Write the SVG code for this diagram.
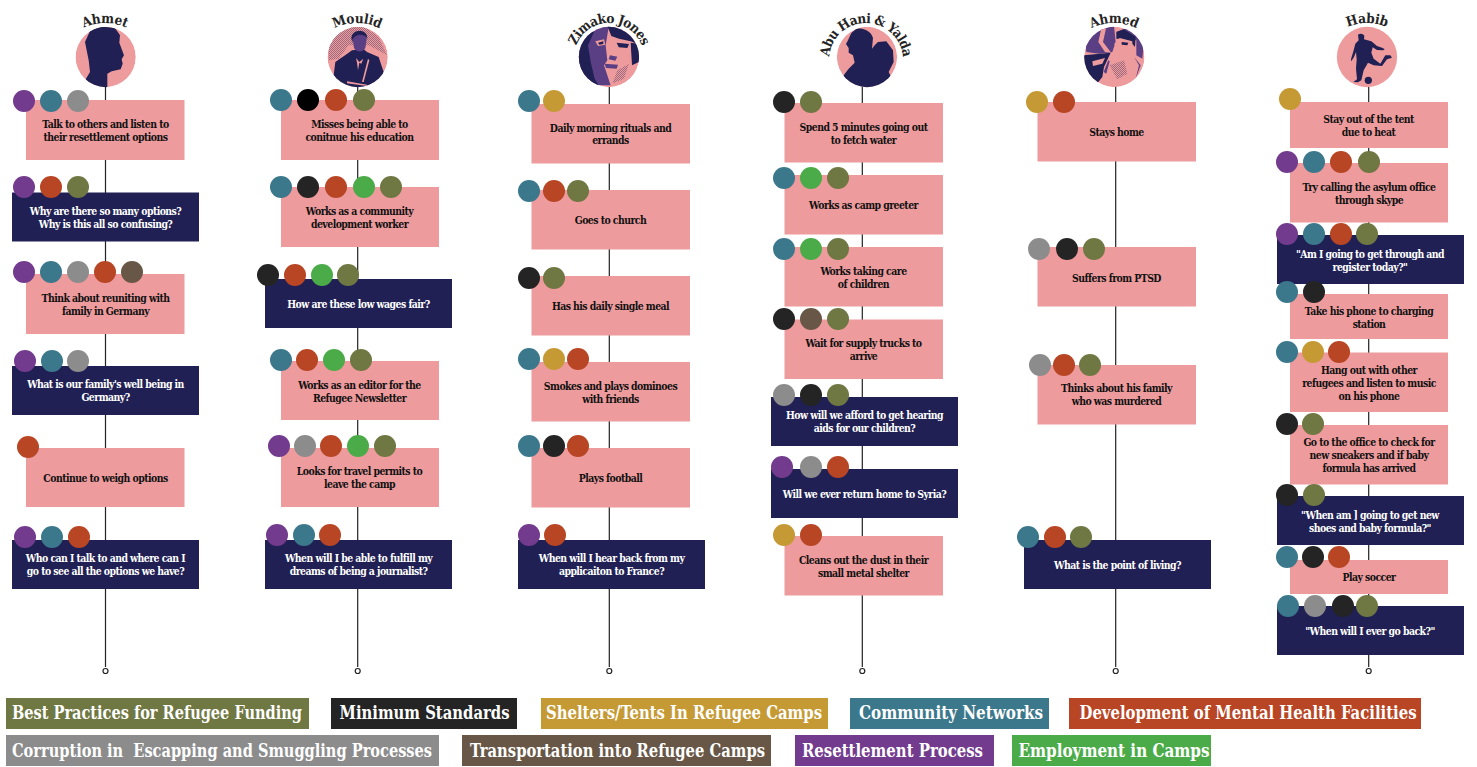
<svg xmlns="http://www.w3.org/2000/svg" width="1477" height="767" viewBox="0 0 1477 767">
<style>
.bg{fill:#fff}
.p{fill:#ee9b9d}.n{fill:#212054}
.ol{fill:#6f7742}.bk{fill:#242424}.go{fill:#c59a35}.te{fill:#3c788c}.ru{fill:#b84524}.gr{fill:#8c8c8c}.br{fill:#685746}.pu{fill:#723b8e}.gn{fill:#4bab49}.bl{fill:#000}
.m{fill:#5a3f84}.d{fill:url(#dith)}
text{font-family:"DejaVu Serif","Liberation Serif",serif;font-weight:700;font-stretch:condensed;text-anchor:middle}
.t{font-size:10.4px;letter-spacing:-.55px;fill:#111}
.w{font-size:10.4px;letter-spacing:-.55px;fill:#fff}
.name{font-size:13.5px;fill:#242424;letter-spacing:-.2px}
.tight{letter-spacing:-.65px}
.lg{font-size:19px;fill:#fff;white-space:pre}
.c{stroke:#222;stroke-width:1.2;fill:none}
.e{stroke:#222;stroke-width:1.2;fill:#fff}
</style>
<defs>
<pattern id="dith" width="6" height="6" patternUnits="userSpaceOnUse"><rect width="6" height="6" fill="#ee9b9d" fill-opacity=".25"/><rect width="3" height="3" fill="#212054" fill-opacity=".4"/><rect x="3" y="3" width="3" height="3" fill="#212054" fill-opacity=".4"/></pattern>
<path id="a1" d="M55 73A50 50 0 0 1 155 73"/>
<path id="a2" d="M307 73A50 50 0 0 1 407 73"/>
<path id="a3" d="M574 58A35 35 0 0 1 644 58"/>
<path id="a4" d="M829 60A37 37 0 0 1 903 60"/>
<path id="a5" d="M1064 73A50 50 0 0 1 1164 73"/>
<path id="a6" d="M1317 73A50 50 0 0 1 1417 73"/>
<clipPath id="cz1"><circle cx="107" cy="105" r="90.500"/></clipPath>
<clipPath id="cz2"><circle cx="107" cy="105" r="90.500"/></clipPath>
<clipPath id="cz3"><circle cx="105" cy="105" r="90.500"/></clipPath>
<clipPath id="cz4"><circle cx="117" cy="105" r="90.500"/></clipPath>
<clipPath id="cz5"><circle cx="106" cy="105" r="90.500"/></clipPath>
</defs>
<rect class="bg" width="1477" height="767"/>
<g id="connectors">
<path class="c" d="M105.500 87V667M357.700 87V667M609.300 87V667M862.300 87V667M1115.700 87V667M1368.700 87V667"/>
<circle class="e" cx="105.500" cy="671" r="2.500"/><circle class="e" cx="357.700" cy="671" r="2.500"/><circle class="e" cx="609.300" cy="671" r="2.500"/><circle class="e" cx="862.300" cy="671" r="2.500"/><circle class="e" cx="1115.700" cy="671" r="2.500"/><circle class="e" cx="1368.700" cy="671" r="2.500"/>
</g>
<g id="person-ahmet">
<g transform="translate(70 22) scale(.3333)" clip-path="url(#cz1)">
<circle class="p" cx="107" cy="105" r="90.500"/>
<path class="n" d="M60 27L80 17L100 14L135 18L150 40L148 62L162 100L155 112L158 125L152 142L125 148L112 155L112 200H40L47 172L60 150L56 115L45 60Z"/>
</g>
<text class="name"><textPath href="#a1" startOffset="50%">Ahmet</textPath></text>
</g>
<g id="person-moulid">
<g transform="translate(322 22) scale(.3333)" clip-path="url(#cz2)">
<circle class="p" cx="107" cy="105" r="90.500"/>
<path class="d" d="M20 70L40 35L90 15H130L170 45L195 100L140 70H80L50 110L20 115Z"/>
<path class="n" d="M90 85L80 92L40 120L35 160L60 200H170L185 150L170 105L135 90L125 82Z"/>
<path class="m" d="M92 50C92 30 132 30 134 50L130 78C124 92 102 92 96 78Z"/>
<path class="n" d="M88 50C88 18 138 18 136 50C128 34 100 34 92 52L92 62Z"/>
<path class="p" d="M102 108L112 120L124 110L118 125L112 122L108 145L105 122Z"/>
<path class="p" d="M138 110L120 180L125 180L142 115Z"/>
<path class="p" d="M75 178L135 188L135 192L75 184Z"/>
</g>
<text class="name"><textPath href="#a2" startOffset="50%">Moulid</textPath></text>
</g>
<g id="person-zimako">
<g transform="translate(574 22) scale(.3333)" clip-path="url(#cz3)">
<circle class="p" cx="105" cy="105" r="90.500"/>
<path class="m" d="M10 10H105L95 70L100 115L90 130L110 190H10Z"/>
<path class="n" d="M10 30L60 30L42 70L50 120L62 170L80 200H10Z"/>
<path class="n" d="M100 12H200V70L170 58L135 50L112 42Z"/>
<path class="n" d="M170 62L195 65V120L174 130Z"/>
<path class="p" d="M64 58L90 52L94 68L72 72Z"/>
<path class="n" d="M72 62L88 58L88 66L76 68Z"/>
<path class="n" d="M128 62L165 66L160 78L134 76Z"/>
<path class="m" d="M92 125L132 128L128 140L96 138Z"/>
<path class="m" d="M108 100L130 104L124 116L104 112Z"/>
<path class="d" d="M130 145L165 125L150 170L115 185Z"/>
</g>
<text class="name tight"><textPath href="#a3" startOffset="50%">Zimako Jones</textPath></text>
</g>
<g id="person-abu-hani-yalda">
<g transform="translate(828 22) scale(.3333)" clip-path="url(#cz4)">
<circle class="p" cx="117" cy="105" r="90.500"/>
<path class="n" d="M85 20C105 18 128 25 135 48L132 80L140 70L150 60L175 58L195 85L197 120L182 150L192 170L180 200H40L47 160L62 140L80 122L75 100L62 92L62 78L54 66L60 55L70 33Z"/>
</g>
<text class="name tight"><textPath href="#a4" startOffset="50%">Abu Hani &amp; Yalda</textPath></text>
</g>
<g id="person-ahmed">
<g transform="translate(1079 22) scale(.3333)" clip-path="url(#cz5)">
<circle class="p" cx="106" cy="105" r="90.500"/>
<path class="m" d="M20 70L50 25L105 12L110 60L100 90L60 95L22 90Z"/>
<path class="p" d="M68 15L82 15L72 60L95 90L78 90L58 60Z"/>
<path class="n" d="M15 100L95 92L75 135L70 165L50 190L15 180Z"/>
<path class="p" d="M40 118L78 108L70 125L42 132Z"/>
<path class="m" d="M112 30L150 15L195 60L190 110L172 100L172 55Z"/>
<path class="n" d="M112 30L135 22L170 45L168 75L155 60L125 50L112 50Z"/>
<path class="p" d="M122 48L160 58L160 78L135 100L112 88L106 65Z"/>
<path class="n" d="M128 60L148 62L145 70L128 68Z"/>
<path class="d" d="M92 130L135 115L145 155L115 172Z"/>
<path class="m" d="M74 150L88 115L92 118L82 155Z"/>
<path class="m" d="M165 105L185 130L170 170L180 130Z"/>
</g>
<text class="name"><textPath href="#a5" startOffset="50%">Ahmed</textPath></text>
</g>
<g id="person-habib">
<g transform="translate(1332 22) scale(.3333)">
<circle class="p" cx="105" cy="105" r="90.500"/>
<path class="n" d="M78 38C84 33 94 34 97 42L96 52L118 58L135 72L152 78L158 82L154 85L135 84L122 76L118 92L125 110L145 125L160 100L175 100L180 107L165 112L150 132L125 130L108 122L95 145L88 175L78 181L64 180L75 172L72 140L74 112L72 90L66 105L58 118L57 112L65 85L70 65L80 55Z"/>
<circle class="n" cx="109" cy="175" r="11"/>
</g>
<text class="name"><textPath href="#a6" startOffset="50%">Habib</textPath></text>
</g>
<g id="col1">
<g id="n1-1"><rect class="p" x="26" y="100" width="158.500" height="60"/><circle class="pu" cx="24" cy="101" r="11"/><circle class="te" cx="51" cy="101" r="11"/><circle class="gr" cx="78" cy="101" r="11"/><text class="t" x="105.500" y="128">Talk to others and listen to</text><text class="t" x="105.500" y="141">their resettlement options</text></g>
<g id="n1-2"><rect class="n" x="12" y="192.500" width="187" height="49"/><circle class="pu" cx="24" cy="187" r="11"/><circle class="ru" cx="51" cy="187" r="11"/><circle class="ol" cx="78" cy="187" r="11"/><text class="w" x="105.500" y="215">Why are there so many options?</text><text class="w" x="105.500" y="228">Why is this all so confusing?</text></g>
<g id="n1-3"><rect class="p" x="26" y="274" width="158.500" height="60"/><circle class="pu" cx="24" cy="272" r="11"/><circle class="te" cx="51" cy="272" r="11"/><circle class="gr" cx="78" cy="272" r="11"/><circle class="ru" cx="105" cy="272" r="11"/><circle class="br" cx="132" cy="272" r="11"/><text class="t" x="105.500" y="302">Think about reuniting with</text><text class="t" x="105.500" y="315">family in Germany</text></g>
<g id="n1-4"><rect class="n" x="12" y="366" width="187" height="49"/><circle class="pu" cx="25" cy="361" r="11"/><circle class="te" cx="52" cy="361" r="11"/><circle class="gr" cx="78" cy="361" r="11"/><text class="w" x="105.500" y="388">What is our family's well being in</text><text class="w" x="105.500" y="401">Germany?</text></g>
<g id="n1-5"><rect class="p" x="26" y="448" width="158.500" height="59"/><circle class="ru" cx="28" cy="447" r="11"/><text class="t" x="105.500" y="482">Continue to weigh options</text></g>
<g id="n1-6"><rect class="n" x="12" y="540" width="187" height="49"/><circle class="pu" cx="25" cy="537" r="11"/><circle class="te" cx="52" cy="537" r="11"/><circle class="ru" cx="79" cy="537" r="11"/><text class="w" x="105.500" y="562">Who can I talk to and where can I</text><text class="w" x="105.500" y="575">go to see all the options we have?</text></g>
</g>
<g id="col2">
<g id="n2-1"><rect class="p" x="281" y="100" width="158" height="60"/><circle class="te" cx="281" cy="100" r="11"/><circle class="bl" cx="308" cy="100" r="11"/><circle class="ru" cx="336" cy="100" r="11"/><circle class="ol" cx="364" cy="100" r="11"/><text class="t" x="359.500" y="128">Misses being able to</text><text class="t" x="359.500" y="141">conitnue his education</text></g>
<g id="n2-2"><rect class="p" x="281" y="187" width="158" height="60"/><circle class="te" cx="281" cy="187" r="11"/><circle class="bk" cx="308" cy="187" r="11"/><circle class="ru" cx="336" cy="187" r="11"/><circle class="gn" cx="364" cy="187" r="11"/><circle class="ol" cx="391" cy="187" r="11"/><text class="t" x="359.500" y="215">Works as a community</text><text class="t" x="359.500" y="228">development worker</text></g>
<g id="n2-3"><rect class="n" x="265" y="279" width="187" height="49"/><circle class="bk" cx="268" cy="275" r="11"/><circle class="ru" cx="295" cy="275" r="11"/><circle class="gn" cx="322" cy="275" r="11"/><circle class="ol" cx="348" cy="275" r="11"/><text class="w" x="358.500" y="308">How are these low wages fair?</text></g>
<g id="n2-4"><rect class="p" x="281" y="361" width="158" height="59"/><circle class="te" cx="281" cy="360" r="11"/><circle class="ru" cx="307" cy="360" r="11"/><circle class="gn" cx="334" cy="360" r="11"/><circle class="ol" cx="361" cy="360" r="11"/><text class="t" x="359.500" y="389">Works as an editor for the</text><text class="t" x="359.500" y="402">Refugee Newsletter</text></g>
<g id="n2-5"><rect class="p" x="281" y="448" width="158" height="59"/><circle class="pu" cx="279" cy="446" r="11"/><circle class="gr" cx="305" cy="446" r="11"/><circle class="ru" cx="331" cy="446" r="11"/><circle class="gn" cx="358" cy="446" r="11"/><circle class="ol" cx="385" cy="446" r="11"/><text class="t" x="359.500" y="475">Looks for travel permits to</text><text class="t" x="359.500" y="488">leave the camp</text></g>
<g id="n2-6"><rect class="n" x="265" y="540" width="187" height="49"/><circle class="pu" cx="277" cy="535" r="11"/><circle class="te" cx="304" cy="535" r="11"/><circle class="ru" cx="330" cy="535" r="11"/><text class="w" x="358.500" y="562">When will I be able to fulfill my</text><text class="w" x="358.500" y="575">dreams of being a journalist?</text></g>
</g>
<g id="col3">
<g id="n3-1"><rect class="p" x="531.500" y="104" width="158.500" height="59.500"/><circle class="te" cx="529" cy="101" r="11"/><circle class="go" cx="554" cy="101" r="11"/><text class="t" x="610.500" y="132">Daily morning rituals and</text><text class="t" x="610.500" y="144">errands</text></g>
<g id="n3-2"><rect class="p" x="531.500" y="190" width="158.500" height="59.500"/><circle class="te" cx="529" cy="191" r="11"/><circle class="ru" cx="554" cy="191" r="11"/><circle class="ol" cx="578" cy="191" r="11"/><text class="t" x="610.500" y="224">Goes to church</text></g>
<g id="n3-3"><rect class="p" x="531.500" y="276" width="158.500" height="59.500"/><circle class="bk" cx="529" cy="278" r="11"/><circle class="ol" cx="554" cy="278" r="11"/><text class="t" x="610.500" y="310">Has his daily single meal</text></g>
<g id="n3-4"><rect class="p" x="531.500" y="362" width="158.500" height="59.500"/><circle class="te" cx="529" cy="359" r="11"/><circle class="go" cx="554" cy="359" r="11"/><circle class="ru" cx="578" cy="359" r="11"/><text class="t" x="610.500" y="390">Smokes and plays dominoes</text><text class="t" x="610.500" y="403">with friends</text></g>
<g id="n3-5"><rect class="p" x="531.500" y="448" width="158.500" height="59.500"/><circle class="te" cx="529" cy="446" r="11"/><circle class="bk" cx="554" cy="446" r="11"/><circle class="ru" cx="578" cy="446" r="11"/><text class="t" x="610.500" y="482">Plays football</text></g>
<g id="n3-6"><rect class="n" x="518" y="540" width="187" height="49"/><circle class="pu" cx="529" cy="535" r="11"/><circle class="ru" cx="555" cy="535" r="11"/><text class="w" x="611.500" y="562">When will I hear back from my</text><text class="w" x="611.500" y="575">applicaiton to France?</text></g>
</g>
<g id="col4">
<g id="n4-1"><rect class="p" x="784.500" y="103" width="158.500" height="59.500"/><circle class="bk" cx="784" cy="102" r="11"/><circle class="ol" cx="811" cy="102" r="11"/><text class="t" x="863.500" y="131">Spend 5 minutes going out</text><text class="t" x="863.500" y="144">to fetch water</text></g>
<g id="n4-2"><rect class="p" x="784.500" y="175" width="158.500" height="59.500"/><circle class="te" cx="784" cy="178" r="11"/><circle class="gn" cx="811" cy="178" r="11"/><circle class="ol" cx="838" cy="178" r="11"/><text class="t" x="863.500" y="209">Works as camp greeter</text></g>
<g id="n4-3"><rect class="p" x="784.500" y="247" width="158.500" height="59.500"/><circle class="te" cx="784" cy="249" r="11"/><circle class="gn" cx="811" cy="249" r="11"/><circle class="ol" cx="838" cy="249" r="11"/><text class="t" x="863.500" y="275">Works taking care</text><text class="t" x="863.500" y="288">of children</text></g>
<g id="n4-4"><rect class="p" x="784.500" y="319.500" width="158.500" height="59.500"/><circle class="bk" cx="784" cy="319" r="11"/><circle class="br" cx="811" cy="319" r="11"/><circle class="ol" cx="838" cy="319" r="11"/><text class="t" x="863.500" y="347">Wait for supply trucks to</text><text class="t" x="863.500" y="360">arrive</text></g>
<g id="n4-5"><rect class="n" x="771" y="397" width="187" height="49"/><circle class="gr" cx="784" cy="395" r="11"/><circle class="bk" cx="811" cy="395" r="11"/><circle class="ol" cx="838" cy="395" r="11"/><text class="w" x="864.500" y="419">How will we afford to get hearing</text><text class="w" x="864.500" y="432">aids for our children?</text></g>
<g id="n4-6"><rect class="n" x="771" y="469" width="187" height="49"/><circle class="pu" cx="782" cy="467" r="11"/><circle class="gr" cx="811" cy="467" r="11"/><circle class="ru" cx="838" cy="467" r="11"/><text class="w" x="864.500" y="498">Will we ever return home to Syria?</text></g>
<g id="n4-7"><rect class="p" x="784.500" y="536" width="158.500" height="59.500"/><circle class="go" cx="784" cy="535" r="11"/><circle class="ru" cx="811" cy="535" r="11"/><text class="t" x="863.500" y="564">Cleans out the dust in their</text><text class="t" x="863.500" y="577">small metal shelter</text></g>
</g>
<g id="col5">
<g id="n5-1"><rect class="p" x="1037.500" y="102" width="158.500" height="59.500"/><circle class="go" cx="1037" cy="102" r="11"/><circle class="ru" cx="1064" cy="102" r="11"/><text class="t" x="1116.500" y="136">Stays home</text></g>
<g id="n5-2"><rect class="p" x="1037.500" y="247" width="158.500" height="59.500"/><circle class="gr" cx="1039" cy="249" r="11"/><circle class="bk" cx="1067" cy="249" r="11"/><circle class="ol" cx="1094" cy="249" r="11"/><text class="t" x="1116.500" y="282">Suffers from PTSD</text></g>
<g id="n5-3"><rect class="p" x="1037.500" y="365" width="158.500" height="59.500"/><circle class="gr" cx="1040" cy="365" r="11"/><circle class="ru" cx="1064" cy="365" r="11"/><circle class="ol" cx="1090" cy="365" r="11"/><text class="t" x="1116.500" y="392">Thinks about his family</text><text class="t" x="1116.500" y="405">who was murdered</text></g>
<g id="n5-4"><rect class="n" x="1024" y="540" width="187" height="49"/><circle class="te" cx="1028" cy="537" r="11"/><circle class="ru" cx="1055" cy="537" r="11"/><circle class="ol" cx="1081" cy="537" r="11"/><text class="w" x="1117.500" y="569">What is the point of living?</text></g>
</g>
<g id="col6">
<g id="n6-1"><rect class="p" x="1290" y="102" width="158" height="46"/><circle class="go" cx="1290" cy="99" r="11"/><text class="t" x="1368.500" y="123">Stay out of the tent</text><text class="t" x="1368.500" y="136">due to heat</text></g>
<g id="n6-2"><rect class="p" x="1290" y="163" width="158" height="59.500"/><circle class="pu" cx="1287" cy="162" r="11"/><circle class="te" cx="1314" cy="162" r="11"/><circle class="ru" cx="1341" cy="162" r="11"/><circle class="ol" cx="1369" cy="162" r="11"/><text class="t" x="1369" y="191">Try calling the asylum office</text><text class="t" x="1369" y="204">through skype</text></g>
<g id="n6-3"><rect class="n" x="1277" y="235" width="187" height="49"/><circle class="pu" cx="1287" cy="234" r="11"/><circle class="te" cx="1314" cy="234" r="11"/><circle class="ru" cx="1341" cy="234" r="11"/><circle class="ol" cx="1367" cy="234" r="11"/><text class="w" x="1370" y="258">"Am I going to get through and</text><text class="w" x="1370" y="271">register today?"</text></g>
<g id="n6-4"><rect class="p" x="1290" y="294" width="158" height="45"/><circle class="te" cx="1287" cy="292" r="11"/><circle class="bk" cx="1314" cy="292" r="11"/><text class="t" x="1369" y="315">Take his phone to charging</text><text class="t" x="1369" y="328">station</text></g>
<g id="n6-5"><rect class="p" x="1290" y="352.500" width="158" height="59.500"/><circle class="te" cx="1287" cy="352" r="11"/><circle class="go" cx="1313" cy="352" r="11"/><circle class="ru" cx="1339" cy="352" r="11"/><text class="t" x="1369" y="374">Hang out with other</text><text class="t" x="1369" y="387">refugees and listen to music</text><text class="t" x="1369" y="400">on his phone</text></g>
<g id="n6-6"><rect class="p" x="1290" y="425" width="158" height="59.500"/><circle class="bk" cx="1287" cy="424" r="11"/><circle class="ol" cx="1313" cy="424" r="11"/><text class="t" x="1369" y="446">Go to the office to check for</text><text class="t" x="1369" y="459">new sneakers and if baby</text><text class="t" x="1369" y="472">formula has arrived</text></g>
<g id="n6-7"><rect class="n" x="1277" y="496" width="187" height="49"/><circle class="bk" cx="1287" cy="495" r="11"/><circle class="ol" cx="1314" cy="495" r="11"/><text class="w" x="1370" y="519">"When am ] going to get new</text><text class="w" x="1370" y="532">shoes and baby formula?"</text></g>
<g id="n6-8"><rect class="p" x="1290" y="560" width="158" height="34"/><circle class="te" cx="1287" cy="557" r="11"/><circle class="bk" cx="1313" cy="557" r="11"/><circle class="ru" cx="1339" cy="557" r="11"/><text class="t" x="1369" y="581">Play soccer</text></g>
<g id="n6-9"><rect class="n" x="1277" y="606" width="187" height="49"/><circle class="te" cx="1288" cy="606" r="11"/><circle class="gr" cx="1315" cy="606" r="11"/><circle class="bk" cx="1343" cy="606" r="11"/><circle class="ol" cx="1367" cy="606" r="11"/><text class="w" x="1370" y="635">"When will I ever go back?"</text></g>
</g>
<g id="legend">
<g id="lg-funding"><rect class="ol" x="6" y="698" width="303" height="31"/><text class="lg" x="157" y="719" textLength="290" lengthAdjust="spacingAndGlyphs">Best Practices for Refugee Funding</text></g>
<g id="lg-standards"><rect class="bk" x="331" y="698" width="186" height="31"/><text class="lg" x="424.500" y="719" textLength="170" lengthAdjust="spacingAndGlyphs">Minimum Standards</text></g>
<g id="lg-shelters"><rect class="go" x="541" y="698" width="287" height="31"/><text class="lg" x="684" y="719" textLength="276" lengthAdjust="spacingAndGlyphs">Shelters/Tents In Refugee Camps</text></g>
<g id="lg-community"><rect class="te" x="850" y="698" width="199" height="31"/><text class="lg" x="951" y="719" textLength="184" lengthAdjust="spacingAndGlyphs">Community Networks</text></g>
<g id="lg-mental"><rect class="ru" x="1069" y="698" width="352" height="31"/><text class="lg" x="1248" y="719" textLength="337" lengthAdjust="spacingAndGlyphs">Development of Mental Health Facilities</text></g>
<g id="lg-corruption"><rect class="gr" x="6" y="735" width="433" height="31"/><text class="lg" x="222" y="757" textLength="420" lengthAdjust="spacingAndGlyphs">Corruption in  Escapping and Smuggling Processes</text></g>
<g id="lg-transport"><rect class="br" x="462" y="735" width="309" height="31"/><text class="lg" x="617.500" y="757" textLength="295" lengthAdjust="spacingAndGlyphs">Transportation into Refugee Camps</text></g>
<g id="lg-resettlement"><rect class="pu" x="795" y="735" width="199" height="31"/><text class="lg" x="892.500" y="757" textLength="181" lengthAdjust="spacingAndGlyphs">Resettlement Process</text></g>
<g id="lg-employment"><rect class="gn" x="1012" y="735" width="199" height="31"/><text class="lg" x="1114" y="757" textLength="191" lengthAdjust="spacingAndGlyphs">Employment in Camps</text></g>
</g>
</svg>
